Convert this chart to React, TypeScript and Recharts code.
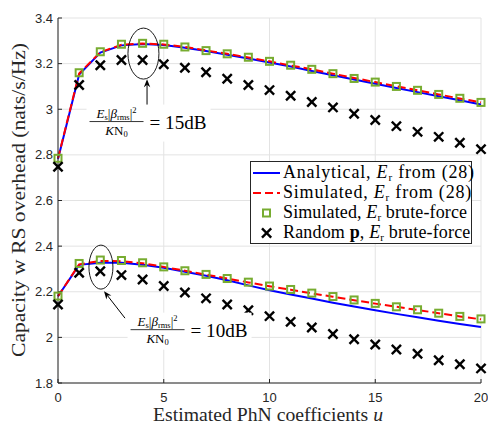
import React from 'react';
import { ComposedChart, Line, XAxis, YAxis, CartesianGrid, ReferenceDot } from 'recharts';

const uValues = [0, 1, 2, 3, 4, 5, 6, 7, 8, 9, 10, 11, 12, 13, 14, 15, 16, 17, 18, 19, 20];

const analytical15 = [2.782, 3.152, 3.248, 3.28, 3.286, 3.282, 3.27, 3.255, 3.239, 3.222, 3.205, 3.187, 3.168, 3.149, 3.13, 3.112, 3.093, 3.075, 3.057, 3.039, 3.021];
const simulated15 = [2.785, 3.157, 3.25, 3.283, 3.288, 3.284, 3.273, 3.258, 3.243, 3.227, 3.21, 3.192, 3.175, 3.156, 3.137, 3.119, 3.101, 3.083, 3.065, 3.047, 3.03];
const brute15 = [2.785, 3.16, 3.252, 3.285, 3.289, 3.285, 3.273, 3.257, 3.243, 3.228, 3.21, 3.193, 3.175, 3.156, 3.135, 3.119, 3.1, 3.083, 3.065, 3.048, 3.03];
const random15 = [2.748, 3.106, 3.193, 3.216, 3.216, 3.197, 3.182, 3.162, 3.134, 3.106, 3.084, 3.059, 3.032, 3.008, 2.98, 2.953, 2.926, 2.901, 2.879, 2.853, 2.825];

const analytical10 = [2.18, 2.318, 2.327, 2.327, 2.318, 2.305, 2.288, 2.27, 2.25, 2.228, 2.207, 2.188, 2.17, 2.152, 2.135, 2.119, 2.103, 2.088, 2.073, 2.059, 2.045];
const simulated10 = [2.18, 2.32, 2.335, 2.334, 2.325, 2.309, 2.292, 2.275, 2.258, 2.241, 2.224, 2.209, 2.193, 2.178, 2.163, 2.148, 2.134, 2.12, 2.106, 2.092, 2.079];
const brute10 = [2.181, 2.324, 2.339, 2.337, 2.327, 2.309, 2.292, 2.276, 2.258, 2.242, 2.225, 2.21, 2.194, 2.179, 2.164, 2.149, 2.134, 2.121, 2.106, 2.092, 2.081];
const random10 = [2.144, 2.283, 2.29, 2.273, 2.254, 2.225, 2.197, 2.171, 2.144, 2.119, 2.093, 2.068, 2.043, 2.015, 1.992, 1.969, 1.947, 1.928, 1.9, 1.882, 1.864];

const xTicks = [0, 5, 10, 15, 20];
const yTicks = [1.8, 2, 2.2, 2.4, 2.6, 2.8, 3, 3.2, 3.4];

const data = uValues.map((u, i) => ({
  u,
  a15: analytical15[i],
  s15: simulated15[i],
  b15: brute15[i],
  r15: random15[i],
  a10: analytical10[i],
  s10: simulated10[i],
  b10: brute10[i],
  r10: random10[i],
}));

const BLUE = '#0000ff';
const RED = '#ff0000';
const GREEN = '#77ac30';
const AXIS = '#262626';
const SERIF = '"Liberation Serif", "Times New Roman", serif';
const SANS = '"Liberation Sans", Arial, sans-serif';

const SquareDot = (props: any) => {
  const { cx, cy, index, dataKey } = props;
  if (cx == null || cy == null) return <g key={`sq-${dataKey}-${index}`} />;
  return (
    <rect key={`sq-${dataKey}-${index}`} x={cx - 3.5} y={cy - 3.5} width={7} height={7} fill="none" stroke={GREEN} strokeWidth={2} />
  );
};

const CrossDot = (props: any) => {
  const { cx, cy, index, dataKey } = props;
  if (cx == null || cy == null) return <g key={`x-${dataKey}-${index}`} />;
  const s = 4.6;
  return (
    <g key={`x-${dataKey}-${index}`} stroke="#000" strokeWidth={2.4}>
      <line x1={cx - s} y1={cy - s} x2={cx + s} y2={cy + s} />
      <line x1={cx - s} y1={cy + s} x2={cx + s} y2={cy - s} />
    </g>
  );
};

const EllipseShape = (rx: number, ry: number) => (p: any) => (
  <ellipse cx={p.cx} cy={p.cy} rx={rx} ry={ry} fill="none" stroke="#000" strokeWidth={0.9} />
);

// Arrow whose tip sits at the anchor; tail offset (dx, dy) in px
const ArrowShape = (dx: number, dy: number) => (p: any) => {
  const tx = p.cx, ty = p.cy;
  const len = Math.sqrt(dx * dx + dy * dy);
  const ux = -dx / len, uy = -dy / len;
  const hl = 8, hw = 3.2;
  const bx = tx - ux * hl, by = ty - uy * hl;
  const nx = -uy, ny = ux;
  const back = 5.5;
  const mx = tx - ux * back, my = ty - uy * back;
  return (
    <g>
      <line x1={tx + dx} y1={ty + dy} x2={mx} y2={my} stroke="#000" strokeWidth={1} />
      <polygon points={`${tx},${ty} ${bx + nx * hw},${by + ny * hw} ${mx},${my} ${bx - nx * hw},${by - ny * hw}`} fill="#000" />
    </g>
  );
};

const LabelShape = (db: string) => (p: any) => {
  const cx = p.cx, cy = p.cy;
  const fx = cx - 32;
  return (
    <g>
      <rect x={cx - 62} y={cy - 18} width={124} height={37} fill="#fff" />
      <text x={fx} y={cy - 5} textAnchor="middle" fontSize={13} fontFamily={SERIF} fill="#000">
        <tspan fontStyle="italic">E</tspan>
        <tspan fontSize={8.5} dy={2}>s</tspan>
        <tspan dy={-2}>|</tspan>
        <tspan fontStyle="italic">β</tspan>
        <tspan fontSize={8.5} dy={2}>rms</tspan>
        <tspan dy={-2}>|</tspan>
        <tspan fontSize={8.5} dy={-5}>2</tspan>
      </text>
      <line x1={fx - 27} x2={fx + 27} y1={cy - 1} y2={cy - 1} stroke="#000" strokeWidth={0.8} />
      <text x={fx} y={cy + 12} textAnchor="middle" fontSize={13} fontFamily={SERIF} fill="#000">
        <tspan fontStyle="italic">K</tspan>
        <tspan>N</tspan>
        <tspan fontSize={8.5} dy={2}>0</tspan>
      </text>
      <text x={cx + 1} y={cy + 6.5} fontSize={18} fontFamily={SERIF} fill="#000" textLength={57} lengthAdjust="spacingAndGlyphs">{`= ${db}`}</text>
    </g>
  );
};

const YLabel = () => {
  const x = 18.5;
  const y = 200;
  return (
    <text x={x} y={y} transform={`rotate(-90 ${x} ${y})`} textAnchor="middle" dominantBaseline="central" fontFamily={SERIF} fontSize={18} fill={AXIS} textLength={314} lengthAdjust="spacingAndGlyphs">
      Capacity w RS overhead (nats/s/Hz)
    </text>
  );
};

const XLabel = () => (
  <text x={268} y={421} textAnchor="middle" fontFamily={SERIF} fontSize={18.5} fill={AXIS} textLength={230} lengthAdjust="spacingAndGlyphs">
    Estimated PhN coefficients <tspan fontStyle="italic">u</tspan>
  </text>
);

const Er = () => (
  <span>
    <i>E</i>
    <sub style={{ fontSize: 11, verticalAlign: 'baseline', position: 'relative', top: 3 }}>r</sub>
  </span>
);

const legendRows = [
  { key: 'a', spacing: 0.8, label: (<span>Analytical, <Er /> from (28)</span>) },
  { key: 's', spacing: 0.8, label: (<span>Simulated, <Er /> from (28)</span>) },
  { key: 'b', spacing: 0.12, label: (<span>Simulated, <Er /> brute-force</span>) },
  { key: 'r', spacing: 0.16, label: (<span>Random <b>p</b>, <Er /> brute-force</span>) },
];

const LegendIcon = ({ kind }: { kind: string }) => (
  <svg width={30} height={20} style={{ display: 'block', flex: '0 0 auto' }}>
    {kind === 'a' && <line x1={2} x2={29} y1={10} y2={10} stroke={BLUE} strokeWidth={2} />}
    {kind === 's' && <line x1={2} x2={29} y1={10} y2={10} stroke={RED} strokeWidth={2} strokeDasharray="8 4" />}
    {kind === 'b' && <rect x={12} y={6.5} width={7} height={7} fill="none" stroke={GREEN} strokeWidth={2} />}
    {kind === 'r' && (
      <g stroke="#000" strokeWidth={2.4}>
        <line x1={11} y1={5.4} x2={20.2} y2={14.6} />
        <line x1={11} y1={14.6} x2={20.2} y2={5.4} />
      </g>
    )}
  </svg>
);

export default function App() {
  return (
    <div style={{ position: 'absolute', left: 0, top: 0, width: 488, height: 424, background: '#fff' }}>
      <ComposedChart width={488} height={424} data={data} margin={{ top: 18, right: 7, bottom: 0, left: 0 }}>
        <CartesianGrid stroke="#e3e3e3" strokeWidth={1} />
        <XAxis
          dataKey="u"
          type="number"
          domain={[0, 20]}
          ticks={xTicks}
          height={41}
          tickSize={-4}
          tickMargin={14}
          axisLine={{ stroke: AXIS }}
          tickLine={{ stroke: AXIS }}
          tick={{ fill: AXIS, fontFamily: SANS, fontSize: 13 }}
          label={{ content: XLabel }}
        />
        <XAxis
          xAxisId="top"
          orientation="top"
          dataKey="u"
          type="number"
          domain={[0, 20]}
          ticks={xTicks}
          height={0}
          tickSize={-4}
          axisLine={{ stroke: AXIS }}
          tickLine={{ stroke: AXIS }}
          tickFormatter={() => ''}
        />
        <YAxis
          type="number"
          domain={[1.8, 3.4]}
          ticks={yTicks}
          width={58}
          tickSize={-4}
          tickMargin={9}
          axisLine={{ stroke: AXIS }}
          tickLine={{ stroke: AXIS }}
          tick={{ fill: AXIS, fontFamily: SANS, fontSize: 13 }}
          tickFormatter={(v: number) => String(Math.round(v * 10) / 10)}
          label={{ content: YLabel }}
        />
        <YAxis
          yAxisId="right"
          orientation="right"
          type="number"
          domain={[1.8, 3.4]}
          ticks={yTicks}
          width={0}
          tickSize={-4}
          axisLine={{ stroke: AXIS }}
          tickLine={{ stroke: AXIS }}
          tickFormatter={() => ''}
        />

        <Line dataKey="a15" stroke={BLUE} strokeWidth={2} dot={false} activeDot={false} isAnimationActive={false} />
        <Line dataKey="a10" stroke={BLUE} strokeWidth={2} dot={false} activeDot={false} isAnimationActive={false} />
        <Line dataKey="s15" stroke={RED} strokeWidth={2} strokeDasharray="8 4" dot={false} activeDot={false} isAnimationActive={false} />
        <Line dataKey="s10" stroke={RED} strokeWidth={2} strokeDasharray="8 4" dot={false} activeDot={false} isAnimationActive={false} />
        <Line dataKey="b15" stroke="none" dot={SquareDot} activeDot={false} isAnimationActive={false} />
        <Line dataKey="b10" stroke="none" dot={SquareDot} activeDot={false} isAnimationActive={false} />
        <Line dataKey="r15" stroke="none" dot={CrossDot} activeDot={false} isAnimationActive={false} />
        <Line dataKey="r10" stroke="none" dot={CrossDot} activeDot={false} isAnimationActive={false} />

        <ReferenceDot x={4.04} y={3.244} r={0} shape={EllipseShape(15.5, 25.5)} />
        <ReferenceDot x={2.03} y={2.308} r={0} shape={EllipseShape(12, 22)} />
        <ReferenceDot x={4.21} y={3.132} r={0} shape={ArrowShape(0, 28)} />
        <ReferenceDot x={2.175} y={2.2026} r={0} shape={ArrowShape(21, 27)} />
        <ReferenceDot x={4.28} y={2.9417} r={0} shape={LabelShape('15dB')} />
        <ReferenceDot x={6.22} y={2.0294} r={0} shape={LabelShape('10dB')} />
      </ComposedChart>

      <div
        style={{
          position: 'absolute',
          left: 250,
          top: 161,
          width: 220,
          height: 80,
          border: `1px solid ${AXIS}`,
          background: '#fff',
          fontFamily: SERIF,
          fontSize: 18,
          color: '#000',
          paddingTop: 1,
          boxSizing: 'content-box',
        }}
      >
        {legendRows.map((r) => (
          <div key={r.key} style={{ display: 'flex', alignItems: 'center', height: 20, whiteSpace: 'nowrap', lineHeight: '20px', letterSpacing: r.spacing }}>
            <LegendIcon kind={r.key} />
            <span style={{ marginLeft: 2 }}>{r.label}</span>
          </div>
        ))}
      </div>
    </div>
  );
}
